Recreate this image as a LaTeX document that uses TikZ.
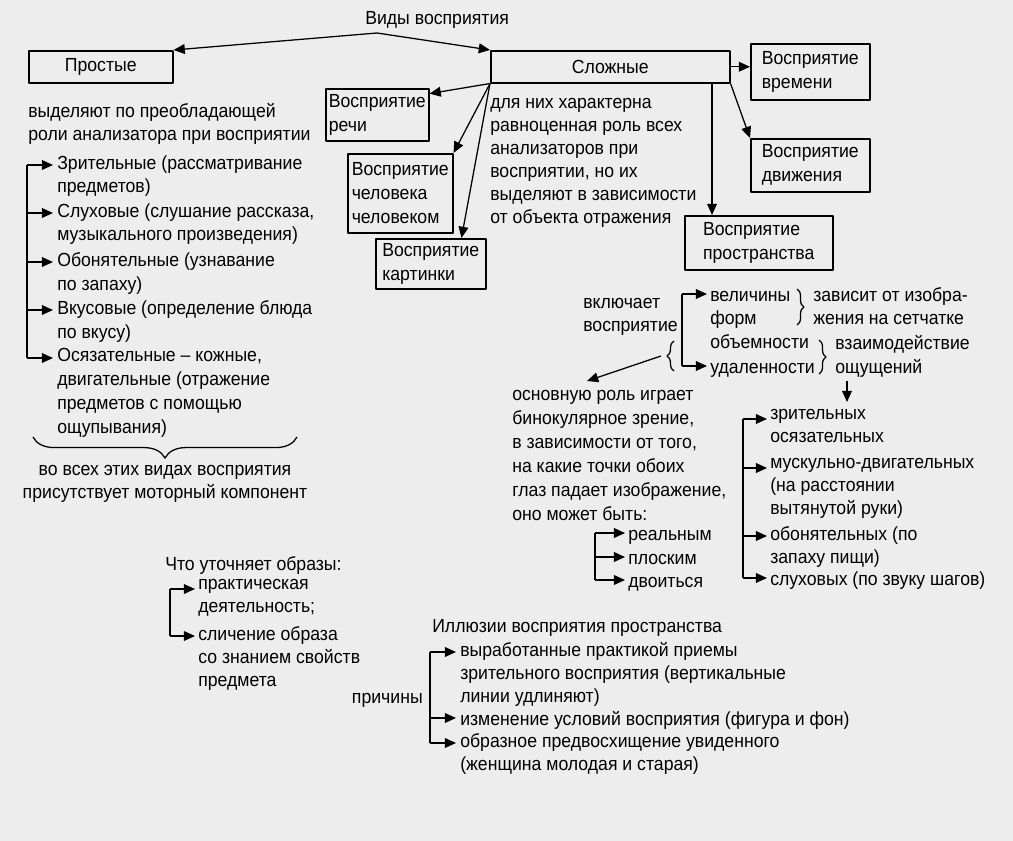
\documentclass[tikz,border=0pt]{standalone}
\usepackage{fontspec}
\setmainfont[FakeStretch=0.93]{Liberation Sans}
\usetikzlibrary{arrows.meta,decorations.pathreplacing,calc}

\begin{document}
\begin{tikzpicture}[x=0.025cm, y=-0.025cm, font=\fontsize{13.5}{17}\selectfont, line join=round,
	>={Triangle[length=8pt,width=7pt]},
	box/.style={draw, line width=1.1pt, anchor=north west, align=left, inner sep=0pt},
	txt/.style={anchor=north west, align=left, inner sep=0pt, execute at begin node=\strut},
	tight/.style={font=\fontsize{13.5}{16.3}\selectfont},
	ln/.style={line width=0.9pt},
	arr/.style={->, line width=0.9pt},
	brc/.style={decorate, decoration={brace, amplitude=#1}, line width=0.9pt}, brc/.default=5pt]
	\def\pix{0.025cm} % 1 px of the sheet
	\fill[black!7] (0,0) rectangle (1013,841);
	\useasboundingbox (0,0) rectangle (1013,841);
	% top
	\node[txt] (vid) at (365,7) {Виды восприятия};
	\coordinate (vp) at (377,33);
	\node[box, align=center, minimum width=144*\pix, minimum height=32*\pix] (prost) at (28,50) {Простые};
	\node[box, align=center, minimum width=239*\pix, minimum height=32*\pix] (slozh) at (490,50) {Сложные};
	\draw[arr] (vp) -- (prost.north east);
	\draw[arr] (vp) -- (slozh.north west);
	% simple ones
	\node[txt, tight] (vyd) at (28,103) {выделяют по преобладающей\\роли анализатора при восприятии};
	\node[txt] (z1) at (57,155) {Зрительные (рассматривание\\предметов)};
	\node[txt] (z2) at (57,203) {Слуховые (слушание рассказа,\\музыкального произведения)};
	\node[txt] (z3) at (57,252) {Обонятельные (узнавание\\по запаху)};
	\node[txt] (z4) at (57,300) {Вкусовые (определение блюда\\по вкусу)};
	\node[txt] (z5) at (57,348) {Осязательные – кожные,\\двигательные (отражение\\предметов с помощью\\ощупывания)};
	\draw[ln] ($(z1.north west)+(-30,10)$) -- ($(z5.north west)+(-30,10)$);
	\foreach \n in {z1,z2,z3,z4,z5} \draw[arr] ($(\n.north west)+(-30,10)$) -- ($(\n.north west)+(-4,10)$);
	\draw[brc=15pt] (297,437) -- (33,437);
	\node[txt, anchor=north, align=center, tight] (vsex) at (165,465) {во всех этих видах восприятия\\присутствует моторный компонент};
	% complex ones
	\node[box, minimum width=119*\pix, minimum height=56*\pix] (vrem) at (750,43) {Восприятие\\времени};
	\node[box, minimum width=119*\pix, minimum height=53*\pix] (dviz) at (750,138) {Восприятие\\движения};
	\node[box, minimum width=103*\pix, minimum height=52*\pix] (rech) at (325,88) {Восприятие\\речи};
	\node[box, minimum width=105*\pix, minimum height=79*\pix] (chel) at (347,153) {Восприятие\\человека\\человеком};
	\node[box, minimum width=110*\pix, minimum height=50*\pix] (kart) at (375,238) {Восприятие\\картинки};
	\node[box, minimum width=148*\pix, minimum height=54*\pix] (prostr) at (684,215) {Восприятие\\пространства};
	\node[txt, tight] (dlya) at (490,98) {для них характерна\\равноценная роль всех\\анализаторов при\\восприятии, но их\\выделяют в зависимости\\от объекта отражения};
	\coordinate (vpr) at (712,215);
	\draw[arr] (slozh.east) -- (slozh.east -| vrem.west);
	\draw[arr] (slozh.south east) -- (dviz.north west);
	\draw[arr] (slozh.south -| vpr) -- (vpr);
	\draw[arr] (slozh.south west) -- ([yshift=-4pt]rech.north east);
	\draw[arr] (slozh.south west) -- (chel.north east);
	\draw[arr] (slozh.south west) -- ($(kart.north)!0.55!(kart.north east)$);
	% space
	\node[txt, tight] (vkl) at (583,298) {включает\\восприятие};
	\foreach \n/\t/\y in {v1/величины/284, v2/форм/307, v3/объемности/331, v4/удаленности/356}
		\node[txt] (\n) at (710,\y) {\t};
	\draw[ln] ($(v1.north west)+(-28,10)$) -- ($(v4.north west)+(-28,10)$);
	\foreach \n in {v1,v4} \draw[arr] ($(\n.north west)+(-28,10)$) -- ($(\n.north west)+(-3,10)$);
	\draw[brc=5pt] (797,289) -- (797,325);
	\node[txt, tight] (zav) at (813,287) {зависит от изобра-\\жения на сетчатке};
	\draw[brc=5pt] (819,340) -- (819,374);
	\node[txt] (vzm) at (835,335) {взаимодействие\\ощущений};
	\draw[brc=5pt] (674,371) -- (674,341);
	\coordinate (lb) at (661,356);
	\coordinate (osnT) at (587,381);
	\draw[arr] (lb) -- (osnT);
	\node[txt] (osn) at (512,390) {основную роль играет\\бинокулярное зрение,\\в зависимости от того,\\на какие точки обоих\\глаз падает изображение,\\оно может быть:};
	\foreach \n/\t/\y in {re/реальным/523, pl/плоским/547, dv/двоиться/570}
		\node[txt] (\n) at (628,\y) {\t};
	\draw[ln] ($(re.north west)+(-33,10)$) -- ($(dv.north west)+(-33,10)$);
	\foreach \n in {re,pl,dv} \draw[arr] ($(\n.north west)+(-33,10)$) -- ($(\n.north west)+(-3,10)$);
	\coordinate (dn) at (847,402);
	\draw[arr] (vzm.south -| dn) -- (dn);
	\node[txt, tight] (r1) at (770,409) {зрительных\\осязательных};
	\node[txt, tight] (r2) at (770,458) {мускульно-двигательных\\(на расстоянии\\вытянутой руки)};
	\node[txt, tight] (r3) at (770,526) {обонятельных (по\\запаху пищи)};
	\node[txt] (r4) at (770,568) {слуховых (по звуку шагов)};
	\draw[ln] ($(r1.north west)+(-27,10)$) -- ($(r4.north west)+(-27,10)$);
	\foreach \n in {r1,r2,r3,r4} \draw[arr] ($(\n.north west)+(-27,10)$) -- ($(\n.north west)+(-3,10)$);
	% images
	\node[txt] (chto) at (165,553) {Что уточняет образы:};
	\node[txt, tight] (pr) at (198,579) {практическая\\деятельность;};
	\node[txt, tight] (sl) at (198,626) {сличение образа\\со знанием свойств\\предмета};
	\draw[ln] ($(pr.north west)+(-28,10)$) -- ($(sl.north west)+(-28,10)$);
	\foreach \n in {pr,sl} \draw[arr] ($(\n.north west)+(-28,10)$) -- ($(\n.north west)+(-3,10)$);
	% illusions
	\node[txt] (ill) at (432,615) {Иллюзии восприятия пространства};
	\node[anchor=base east, inner sep=0pt] (prich) at (423,703) {причины};
	\node[txt, tight] (i1) at (460,642) {выработанные практикой приемы\\зрительного восприятия (вертикальные\\линии удлиняют)};
	\node[txt] (i2) at (460,708) {изменение условий восприятия (фигура и фон)};
	\node[txt, tight] (i3) at (460,733) {образное предвосхищение увиденного\\(женщина молодая и старая)};
	\draw[ln] ($(i1.north west)+(-30,10)$) -- ($(i3.north west)+(-30,10)$);
	\foreach \n in {i1,i2,i3} \draw[arr] ($(\n.north west)+(-30,10)$) -- ($(\n.north west)+(-4,10)$);
\end{tikzpicture}
\end{document}
